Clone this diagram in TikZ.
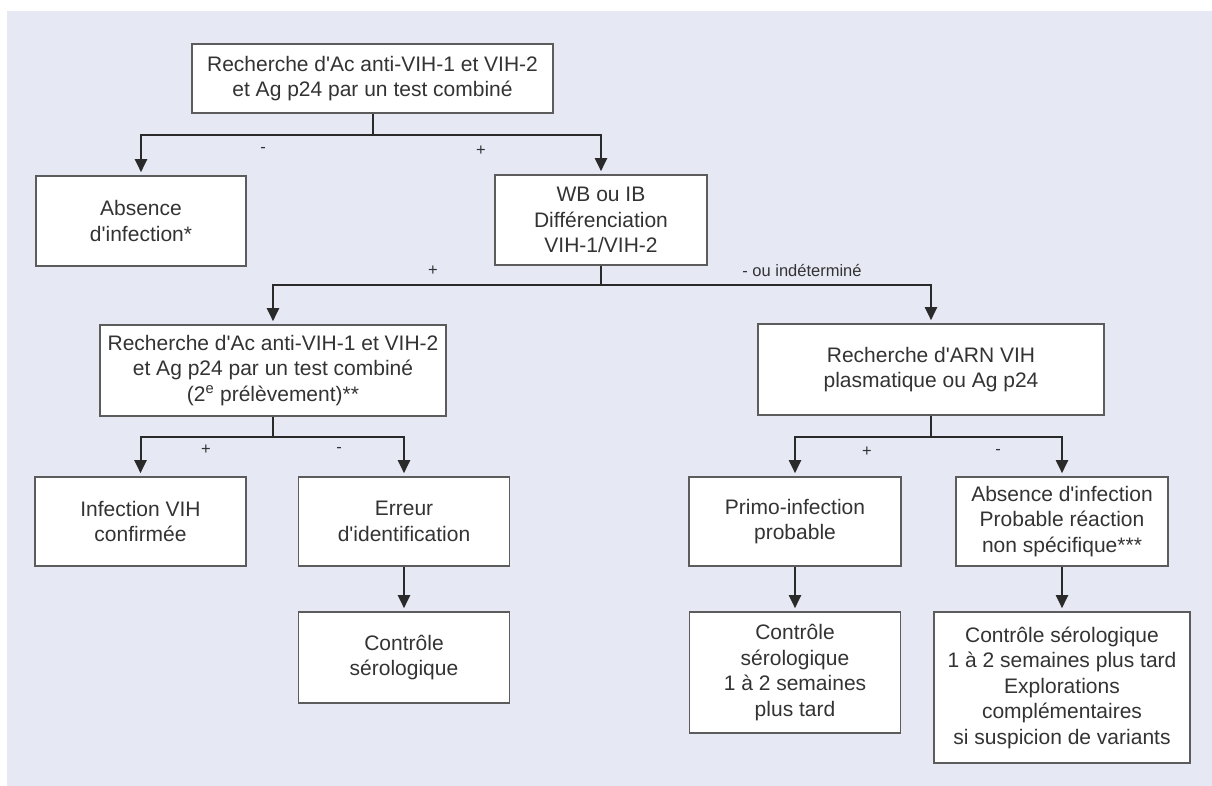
\documentclass[tikz,border=0pt]{standalone}
\usepackage{fontspec}
\newfontfamily\lsans{Liberation Sans}
\usetikzlibrary{arrows.meta}
\definecolor{bgc}{HTML}{E6E8F4}
\definecolor{txt}{HTML}{333333}
\definecolor{brd}{HTML}{5C5C5C}
\definecolor{lnc}{HTML}{2A2A2A}
\begin{document}
\begin{tikzpicture}[x=1pt,y=-1pt,
  box/.style={draw=brd, line width=1.6pt, fill=white, align=center, inner sep=0pt,
    text=txt, font=\lsans\fontsize{21}{25.5}\selectfont},
  ln/.style={draw=lnc, line width=2pt},
  arr/.style={ln, -{Triangle[width=12pt,length=13pt]}, shorten >=3pt},
  lab/.style={text=txt, font=\lsans\fontsize{16.5}{19}\selectfont, inner sep=0pt}]
\useasboundingbox (0,0) rectangle (1212,786);
\fill[bgc] (7,11) rectangle (1212,786);

% boxes
\node[box, minimum width=361pt, minimum height=69pt] (b1) at (372.5,78.5)
  {Recherche d'Ac anti-VIH-1 et VIH-2\\et Ag p24 par un test combiné};
\node[box, minimum width=210pt, minimum height=90pt] (abs1) at (141,221)
  {Absence\\d'infection*};
\node[box, minimum width=212pt, minimum height=90pt] (wb) at (601,220)
  {WB ou IB\\Différenciation\\VIH-1/VIH-2};
\node[box, minimum width=346pt, minimum height=91pt] (b3) at (273,370.5)
  {Recherche d'Ac anti-VIH-1 et VIH-2\\et Ag p24 par un test combiné\\(2\textsuperscript{e} prélèvement)**};
\node[box, minimum width=346pt, minimum height=91pt] (arn) at (931,369.5)
  {Recherche d'ARN VIH\\plasmatique ou Ag p24};
\node[box, minimum width=211pt, minimum height=89pt] (inf) at (140.5,521.5)
  {Infection VIH\\confirmée};
\node[box, minimum width=211pt, minimum height=89pt] (err) at (404,521.5)
  {Erreur\\d'identification};
\node[box, minimum width=211pt, minimum height=91pt] (c1) at (404,657.5)
  {Contrôle\\sérologique};
\node[box, minimum width=212pt, minimum height=89pt] (primo) at (795,521.5)
  {Primo-infection\\probable};
\node[box, minimum width=212pt, minimum height=89pt] (abs2) at (1062,521.5)
  {Absence d'infection\\Probable réaction\\non spécifique***};
\node[box, minimum width=211pt, minimum height=121pt] (c2) at (795,672.5)
  {Contrôle\\sérologique\\1 à 2 semaines\\plus tard};
\node[box, minimum width=256pt, minimum height=151pt] (c3) at (1062,687.5)
  {Contrôle sérologique\\1 à 2 semaines plus tard\\Explorations\\complémentaires\\si suspicion de variants};

% junctions
\coordinate (j1) at (b1.south |- 0,135);
\coordinate (j2) at (wb.south |- 0,285);
\coordinate (j3) at (b3.south |- 0,437);
\coordinate (j4) at (arn.south |- 0,437);

\draw[ln] (b1.south) -- (j1);
\draw[arr] (j1) -| (abs1.north);
\draw[arr] (j1) -| (wb.north);

\draw[ln] (wb.south) -- (j2);
\draw[arr] (j2) -| (b3.north);
\draw[arr] (j2) -| (arn.north);

\draw[ln] (b3.south) -- (j3);
\draw[arr] (j3) -| (inf.north);
\draw[arr] (j3) -| (err.north);

\draw[ln] (arn.south) -- (j4);
\draw[arr] (j4) -| (primo.north);
\draw[arr] (j4) -| (abs2.north);

\draw[arr] (err.south) -- (c1.north);
\draw[arr] (primo.south) -- (c2.north);
\draw[arr] (abs2.south) -- (c3.north);

% labels
\node[lab] (l1) at (263,150) {-};
\node[lab] (l2) at (481,151) {+};
\node[lab] (l3) at (433,271) {+};
\node[lab] (l4) at (802,271) {- ou indéterminé};
\node[lab] (l5) at (206,450) {+};
\node[lab] (l6) at (339,450) {-};
\node[lab] (l7) at (867,452) {+};
\node[lab] (l8) at (998,452) {-};
\end{tikzpicture}
\end{document}
